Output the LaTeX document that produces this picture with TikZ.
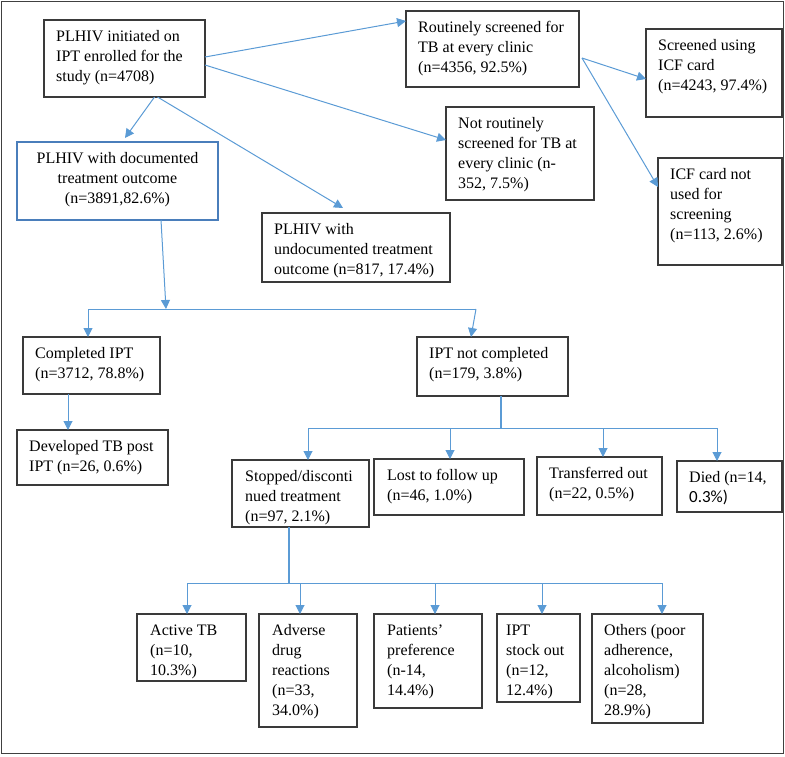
\documentclass[tikz,border=0pt]{standalone}
\usepackage{fontspec}
\setmainfont{Liberation Serif}
\newfontfamily\calfont{Carlito}
\usetikzlibrary{arrows.meta}
\definecolor{arrblue}{HTML}{5B9BD5}
\definecolor{docblue}{HTML}{4A7EBB}
\definecolor{boxgray}{HTML}{3A3A3A}
\definecolor{framegray}{HTML}{404040}
\tikzset{
  boxst/.style={draw=boxgray, line width=1.3pt, inner sep=0pt, outer sep=0pt, rectangle},
  txt/.style={inner sep=0pt, align=left, anchor=north west, font=\fontsize{16}{20}\selectfont},
  conn/.style={draw=arrblue, line width=1pt},
  arr/.style={conn, -{Triangle[length=9pt,width=9pt]}},
  busthick/.style={draw=arrblue, line width=2.2pt}
}
\newcommand\flowbox[7][12]{%
  \node[boxst, minimum width={#5-#3}, minimum height={#6-#4}] (#2) at ({(#3+#5)/2},{(#4+#6)/2}) {};
  \node[txt] (#2t) at ([shift={(#1pt,-10.5pt)}]#2.north west) {#7};
}
\begin{document}
\begin{tikzpicture}[x=1pt,y=-1pt]
\useasboundingbox (0,0) rectangle (785,756);
\draw[framegray, line width=1pt] (1.5,1) rectangle (783.5,753.5);

\flowbox{b1}{44}{20}{205}{97}{PLHIV initiated on\\IPT enrolled for the\\study (n=4708)}
\node[boxst, draw=docblue, line width=2pt, minimum width=201, minimum height=78] (doc) at (117.5,181) {};
\node[txt, align=center, anchor=north] (doct) at ([yshift=-10.5pt]doc.north) {PLHIV with documented\\treatment outcome\\(n=3891,82.6\%)};
\flowbox{routine}{406}{11}{579}{87}{Routinely screened for\\TB at every clinic\\(n=4356, 92.5\%)}
\flowbox{icf}{646}{29}{782}{117}{Screened using\\ICF card\\(n=4243, 97.4\%)}
\flowbox{notrout}{446}{107}{594}{200}{Not routinely\\screened for TB at\\every clinic (n-\\352, 7.5\%)}
\flowbox{icfno}{658}{158}{782}{265}{ICF card not\\used for\\screening\\(n=113, 2.6\%)}
\flowbox{undoc}{262}{213}{450}{282}{PLHIV with\\undocumented treatment\\outcome (n=817, 17.4\%)}
\flowbox{comp}{23}{337}{160}{394}{Completed IPT\\(n=3712, 78.8\%)}
\flowbox{notcomp}{417}{337}{568}{396}{IPT not completed\\(n=179, 3.8\%)}
\flowbox{devtb}{17}{430}{168}{485}{Developed TB post\\IPT (n=26, 0.6\%)}
\flowbox[13]{stop}{232}{460}{369}{527}{Stopped/disconti\\nued treatment\\(n=97, 2.1\%)}
\flowbox[13]{lost}{374}{459}{524}{515}{Lost to follow up\\(n=46, 1.0\%)}
\flowbox{trans}{537}{457}{662}{515}{Transferred out\\(n=22, 0.5\%)}
\flowbox{died}{677}{461}{782}{512}{Died (n=14,\\{\calfont\fontsize{17}{20}\selectfont 0.3\%)}}
\flowbox[13]{active}{137}{614}{246}{681}{Active TB\\(n=10,\\10.3\%)}
\flowbox[13]{adverse}{259}{614}{357}{727}{Adverse\\drug\\reactions\\(n=33,\\34.0\%)}
\flowbox[13]{patients}{374}{614}{482}{708}{Patients’\\preference\\(n-14,\\14.4\%)}
\flowbox[9]{stock}{497}{614}{580}{702}{IPT\\stock out\\(n=12,\\12.4\%)}
\flowbox{others}{592}{614}{703}{723}{Others (poor\\adherence,\\alcoholism)\\(n=28,\\28.9\%)}

% top connectors
\draw[arr] ([yshift=1.5pt]b1.east) -- ([yshift=-10pt]routine.north west);
\draw[arr] ([yshift=-6.5pt]b1.east) -- ([yshift=-33pt]notrout.north west);
\draw[arr] ([xshift=30pt]b1.south) -- ([xshift=7.5pt,yshift=4pt]doc.north);
\draw[arr] ([xshift=33pt]b1.south) -- ([xshift=-13pt,yshift=5pt]undoc.north);
\draw[arr] ([xshift=3pt,yshift=-9pt]routine.east) -- ([yshift=-6pt]icf.west);
\draw[arr] ([xshift=3pt,yshift=-9pt]routine.east) -- ([yshift=-29pt]icfno.north west);

% documented -> completed / not completed
\coordinate (j1) at (166,309);
\coordinate (jL) at (88,309);
\coordinate (jR) at (476,309);
\draw[arr] ([xshift=43.5pt]doc.south) -- (j1);
\draw[conn] (jL) -- (jR);
\draw[arr] (jL) -- ([xshift=-3.5pt]comp.north);
\draw[arr] (jR) -- ([xshift=-21.5pt]notcomp.north);
\draw[arr] ([xshift=-23.5pt]comp.south) -- ([xshift=-24.5pt]devtb.north);

% not completed -> reasons
\coordinate (bus2L) at (308,428);
\coordinate (bus2R) at (717,428);
\path ([xshift=8.5pt]notcomp.south) coordinate (s2);
\draw[busthick] (s2) -- (s2 |- bus2L);
\draw[conn] (bus2L) -- (bus2R);
\foreach \n/\s in {stop/7.5, lost/1, trans/3.5, died/-12.5}{
  \path ([xshift=\s pt]\n.north) coordinate (tmp);
  \draw[arr] (tmp |- bus2L) -- (tmp);
}

% stopped -> reasons
\coordinate (bus3L) at (187,583);
\coordinate (bus3R) at (662,583);
\path ([xshift=-11.5pt]stop.south) coordinate (s3);
\draw[busthick] (s3) -- (s3 |- bus3L);
\draw[conn] (bus3L) -- (bus3R);
\foreach \n/\s in {active/-4.5, adverse/-8, patients/7, stock/3.5, others/14.5}{
  \path ([xshift=\s pt]\n.north) coordinate (tmp);
  \draw[arr] (tmp |- bus3L) -- (tmp);
}
\end{tikzpicture}
\end{document}
